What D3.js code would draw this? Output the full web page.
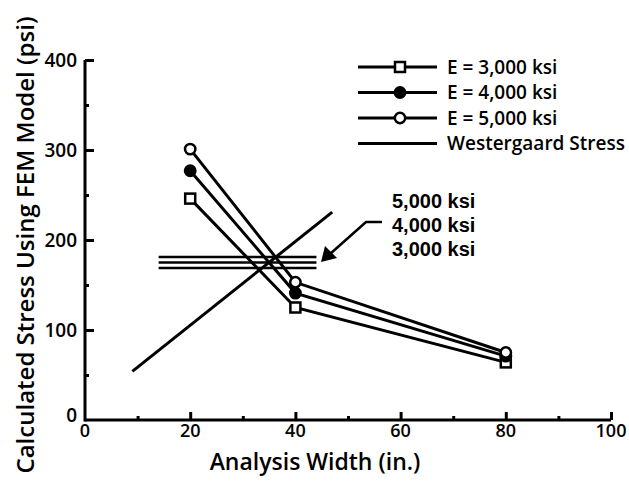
<!DOCTYPE html>
<html>
<head>
<meta charset="utf-8">
<script src="https://cdn.jsdelivr.net/npm/d3@7"></script>
<style>
  body { margin: 0; background: #fff; }
  text { font-family: "Open Sans", sans-serif; fill: #000; font-weight: 600; }
  text.note { font-family: "Liberation Sans", sans-serif; font-weight: 700; }
</style>
</head>
<body>
<svg id="chart" width="629" height="482"></svg>
<script>
// FEM stress vs analysis width
const widths = [20, 40, 80];
const e3000 = [246, 125, 64];
const e4000 = [277, 141, 71];
const e5000 = [301, 153, 75];

// Westergaard stress: three short horizontal lines + one diagonal
const westLabels = ["5,000 ksi", "4,000 ksi", "3,000 ksi"];
const westStress = [181, 175, 169];
const westSpan = [14, 44];
const diagX = [9, 47];
const diagY = [54, 231];

const xTicks = [0, 20, 40, 60, 80, 100];
const yTicks = [0, 100, 200, 300, 400];

const svg = d3.select("#chart");
const x = d3.scaleLinear().domain([0, 100]).range([85, 611]);
const y = d3.scaleLinear().domain([0, 400]).range([420, 60]);

// axes
const gx = svg.append("g").attr("transform", "translate(0,420)");
gx.call(d3.axisBottom(x).tickValues(d3.range(10, 101, 20)).tickSize(-4).tickFormat(""));
gx.call(g => g.append("g").call(d3.axisBottom(x).tickValues(xTicks.slice(1)).tickSize(-8).tickFormat("")));
gx.selectAll(".domain").remove();
gx.selectAll("line").attr("stroke", "#000").attr("stroke-width", 3);
svg.append("line").attr("x1", x(0)).attr("x2", x(100)).attr("y1", 420).attr("y2", 420)
  .attr("stroke", "#000").attr("stroke-width", 3);

const gy = svg.append("g").attr("transform", "translate(85,0)");
gy.call(d3.axisLeft(y).tickValues(d3.range(50, 400, 100)).tickSize(-4).tickFormat(""));
gy.call(g => g.append("g").call(d3.axisLeft(y).tickValues(yTicks.slice(1)).tickSize(-9).tickFormat("")));
gy.selectAll(".domain").remove();
gy.selectAll("line").attr("stroke", "#000").attr("stroke-width", 3);
svg.append("line").attr("x1", 85).attr("x2", 85).attr("y1", y(0) + 1.5).attr("y2", y(400))
  .attr("stroke", "#000").attr("stroke-width", 3);

svg.append("g").selectAll("text").data(xTicks).join("text")
  .attr("x", d => x(d)).attr("y", 437)
  .attr("text-anchor", "middle").attr("font-size", 18).text(d => d);
svg.append("g").selectAll("text").data(yTicks).join("text")
  .attr("x", 77).attr("y", d => y(d) - (d === 0 ? 5 : 0)).attr("dy", "0.35em")
  .attr("text-anchor", "end").attr("font-size", 19).text(d => d);

svg.append("text").attr("x", 315).attr("y", 470).attr("text-anchor", "middle")
  .attr("font-size", 23).text("Analysis Width (in.)");
svg.append("text").attr("transform", "translate(34,245) rotate(-90)").attr("text-anchor", "middle")
  .attr("font-size", 24).text("Calculated Stress Using FEM Model (psi)");

// Westergaard lines
const wg = svg.append("g").attr("stroke", "#000").attr("stroke-width", 2.5);
wg.selectAll("line.h").data(westStress).join("line").attr("class", "h")
  .attr("x1", x(westSpan[0])).attr("x2", x(westSpan[1]))
  .attr("y1", d => y(d)).attr("y2", d => y(d));
wg.append("line").attr("x1", x(diagX[0])).attr("y1", y(diagY[0]))
  .attr("x2", x(diagX[1])).attr("y2", y(diagY[1])).attr("stroke-width", 3);

// FEM series
const series = [
  { name: "E = 3,000 ksi", vals: e3000, mark: "square" },
  { name: "E = 4,000 ksi", vals: e4000, mark: "filled" },
  { name: "E = 5,000 ksi", vals: e5000, mark: "open" }
];
const line = d3.line().x(d => x(d[0])).y(d => y(d[1]));

function marker(g, type) {
  if (type === "square") {
    g.append("rect").attr("x", -5).attr("y", -5).attr("width", 10).attr("height", 10)
      .attr("fill", "#fff").attr("stroke", "#000").attr("stroke-width", 2.5);
  } else {
    g.append("circle").attr("r", 5.2)
      .attr("fill", type === "filled" ? "#000" : "#fff").attr("stroke", "#000").attr("stroke-width", 2.5);
  }
}

series.forEach(s => {
  const pts = widths.map((w, i) => [w, s.vals[i]]);
  svg.append("path").attr("d", line(pts)).attr("fill", "none")
    .attr("stroke", "#000").attr("stroke-width", 3);
  pts.forEach(p => {
    marker(svg.append("g").attr("transform", `translate(${x(p[0])},${y(p[1])})`), s.mark);
  });
});

// legend
const legend = svg.append("g");
const rows = series.map(s => s).concat([{ name: "Westergaard Stress", mark: null }]);
rows.forEach((r, i) => {
  const cy = 67 + i * 25.5;
  legend.append("line").attr("x1", 358).attr("x2", 437).attr("y1", cy).attr("y2", cy)
    .attr("stroke", "#000").attr("stroke-width", 3);
  if (r.mark) marker(legend.append("g").attr("transform", `translate(400,${cy})`), r.mark);
  legend.append("text").attr("x", 447).attr("y", cy).attr("dy", "0.35em")
    .attr("font-size", 19).text(r.name);
});

// annotation
westLabels.forEach((t, i) => {
  svg.append("text").attr("class", "note").attr("x", 392).attr("y", 208 + i * 24)
    .attr("font-size", 20).text(t);
});
svg.append("path").attr("d", "M382,222 L366,222 L330,254")
  .attr("fill", "none").attr("stroke", "#000").attr("stroke-width", 2.5);
svg.append("path").attr("d", "M321,262 L325,246 L337,258 Z").attr("fill", "#000");
</script>
</body>
</html>
